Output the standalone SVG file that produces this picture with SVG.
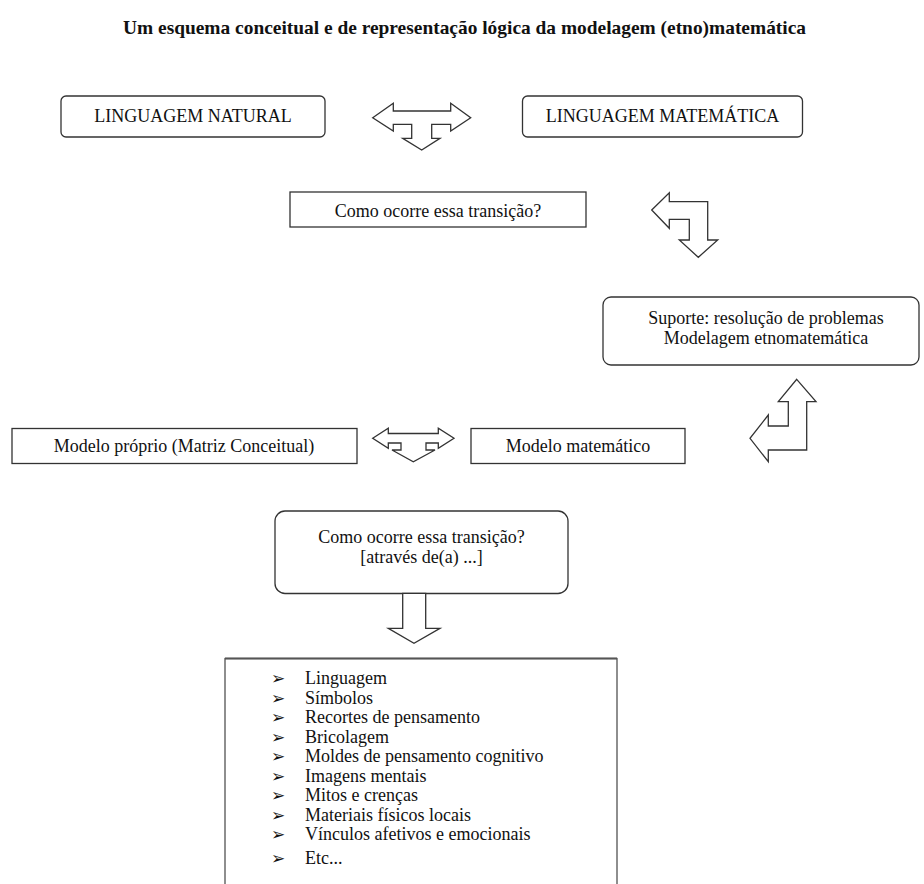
<svg xmlns="http://www.w3.org/2000/svg" width="924" height="884" viewBox="0 0 924 884">
<style>
.bx{fill:#fff;stroke:#333;stroke-width:1.3}
.ar{fill:#fff;stroke:#333;stroke-width:1.3;stroke-linejoin:miter}
.t{font-family:"Liberation Serif","Times New Roman",serif;font-size:18px;fill:#111}
.c{text-anchor:middle}
.title{font-family:"Liberation Serif","Times New Roman",serif;font-size:19.5px;font-weight:bold;fill:#111}
.bul{font-family:"DejaVu Sans",sans-serif;font-size:17px;fill:#111}
</style>
<rect width="924" height="884" fill="#fff"/>
<text class="title" x="123" y="34" textLength="683" lengthAdjust="spacingAndGlyphs">Um esquema conceitual e de representação lógica da modelagem (etno)matemática</text>

<g id="n-natural">
<rect class="bx" x="61" y="96" width="264" height="41" rx="5"/>
<text class="t c" x="193" y="122">LINGUAGEM NATURAL</text>
</g>
<g id="n-matematica">
<rect class="bx" x="522.5" y="96" width="280" height="41" rx="5"/>
<text class="t c" x="662.5" y="122">LINGUAGEM MATEMÁTICA</text>
</g>
<g id="n-transicao1">
<rect class="bx" x="290" y="192" width="296" height="35"/>
<text class="t c" x="438" y="216.5">Como ocorre essa transição?</text>
</g>
<g id="n-suporte">
<rect class="bx" x="603" y="297" width="316" height="68" rx="8"/>
<text class="t c" x="766" y="324">Suporte: resolução de problemas</text>
<text class="t c" x="766" y="344">Modelagem etnomatemática</text>
</g>
<g id="n-proprio">
<rect class="bx" x="12" y="428.5" width="345" height="35"/>
<text class="t c" x="184" y="452">Modelo próprio (Matriz Conceitual)</text>
</g>
<g id="n-modelo">
<rect class="bx" x="471" y="428.5" width="214" height="35"/>
<text class="t c" x="578" y="452">Modelo matemático</text>
</g>
<g id="n-transicao2">
<rect class="bx" x="275" y="511" width="293" height="82.5" rx="10"/>
<text class="t c" x="421.5" y="543">Como ocorre essa transição?</text>
<text class="t c" x="421.5" y="563">[através de(a) ...]</text>
</g>
<g id="n-lista">
<rect x="225" y="658.5" width="392" height="240" fill="#fff" stroke="#444" stroke-width="1.2"/>
<line x1="225" y1="658.5" x2="617" y2="658.5" stroke="#555" stroke-width="2.2"/>
<g class="bul">
<text x="271" y="684">➢</text>
<text x="271" y="703.5">➢</text>
<text x="271" y="723">➢</text>
<text x="271" y="742.5">➢</text>
<text x="271" y="762">➢</text>
<text x="271" y="781.5">➢</text>
<text x="271" y="801">➢</text>
<text x="271" y="820.5">➢</text>
<text x="271" y="840">➢</text>
<text x="271" y="863.5">➢</text>
</g>
<g class="t">
<text x="305" y="684">Linguagem</text>
<text x="305" y="703.5">Símbolos</text>
<text x="305" y="723">Recortes de pensamento</text>
<text x="305" y="742.5">Bricolagem</text>
<text x="305" y="762">Moldes de pensamento cognitivo</text>
<text x="305" y="781.5">Imagens mentais</text>
<text x="305" y="801">Mitos e crenças</text>
<text x="305" y="820.5">Materiais físicos locais</text>
<text x="305" y="840">Vínculos afetivos e emocionais</text>
<text x="305" y="863.5">Etc...</text>
</g>
</g>

<g id="connectors">
<path class="ar" d="M372.7,117.7 L393.3,103.3 L393.3,111 L450.7,111 L450.7,103.3 L470.7,117.7 L450.7,131 L450.7,124.3 L431.7,124.3 L431.7,138.3 L440,138.3 L421.7,150 L402.7,138.3 L411.7,138.3 L411.7,124.3 L393.3,124.3 L393.3,131 Z"/>
<path class="ar" d="M651.7,210 L669.3,192.7 L669.3,201.7 L707.7,201.7 L707.7,240 L717.7,240 L698.3,257.3 L679.3,240 L689.3,240 L689.3,219.3 L669.3,219.3 L669.3,228.3 Z"/>
<path class="ar" d="M796.7,379.3 L816,401.7 L806.7,401.7 L806.7,450 L768.3,450 L768.3,461.7 L750,438.3 L768.3,415 L768.3,426 L788.3,426 L788.3,401.7 L778.3,401.7 Z"/>
<path class="ar" d="M372.7,438.3 L388.3,428.3 L388.3,433.5 L438.3,433.5 L438.3,428.3 L454,438.3 L438.3,448.3 L438.3,443 L426,443 L426,450 L435,450 L413.3,461.7 L392,450 L401,450 L401,443 L388.3,443 L388.3,448.3 Z"/>
<path class="ar" d="M402.7,593.3 L425.7,593.3 L425.7,628.3 L440,628.3 L414,643.3 L388.3,628.3 L402.7,628.3 Z"/>
</g>
</svg>
